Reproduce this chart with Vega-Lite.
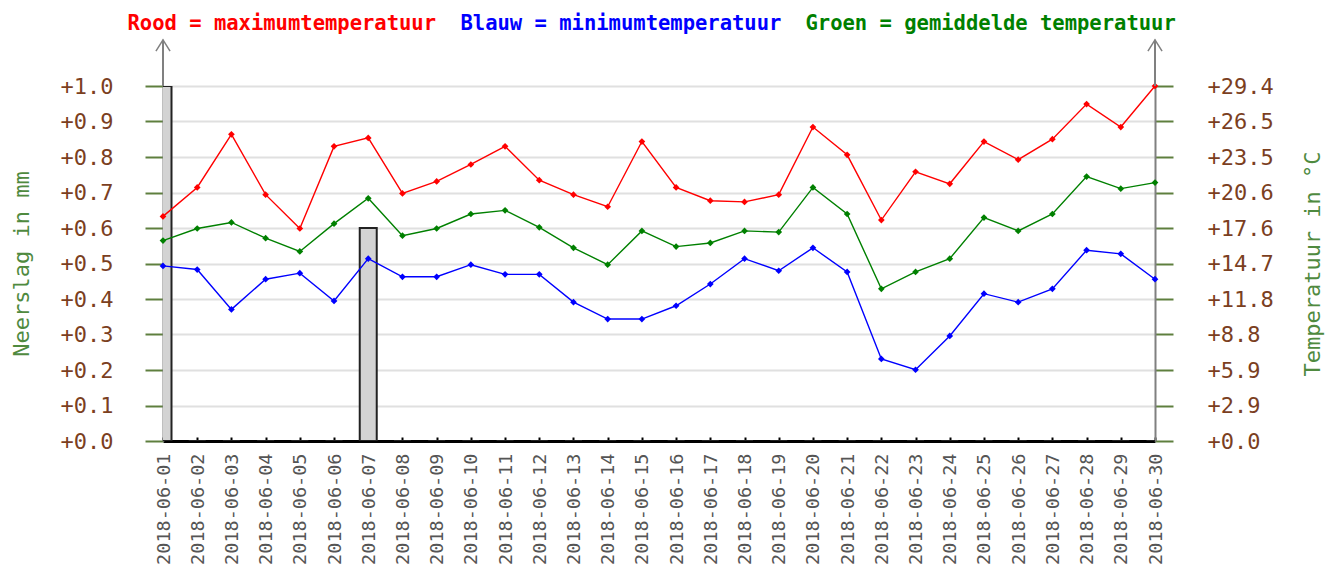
{
  "$schema": "https://vega.github.io/schema/vega-lite/v6.json",
  "width": 992,
  "height": 355,
  "autosize": "none",
  "padding": {"left": 163, "top": 86, "right": 183, "bottom": 129},
  "background": "white",
  "config": {"view": {"stroke": null}, "font": "DejaVu Sans Mono"},
  "data": {
    "values": [
      {"dag": "2018-06-01", "neerslag": 1.0, "tmax": 18.6, "tmin": 14.5, "tgem": 16.6},
      {"dag": "2018-06-02", "neerslag": 0.0, "tmax": 21.0, "tmin": 14.2, "tgem": 17.6},
      {"dag": "2018-06-03", "neerslag": 0.0, "tmax": 25.4, "tmin": 10.9, "tgem": 18.1},
      {"dag": "2018-06-04", "neerslag": 0.0, "tmax": 20.4, "tmin": 13.4, "tgem": 16.8},
      {"dag": "2018-06-05", "neerslag": 0.0, "tmax": 17.6, "tmin": 13.9, "tgem": 15.7},
      {"dag": "2018-06-06", "neerslag": 0.0, "tmax": 24.4, "tmin": 11.6, "tgem": 18.0},
      {"dag": "2018-06-07", "neerslag": 0.6, "tmax": 25.1, "tmin": 15.1, "tgem": 20.1},
      {"dag": "2018-06-08", "neerslag": 0.0, "tmax": 20.5, "tmin": 13.6, "tgem": 17.0},
      {"dag": "2018-06-09", "neerslag": 0.0, "tmax": 21.5, "tmin": 13.6, "tgem": 17.6},
      {"dag": "2018-06-10", "neerslag": 0.0, "tmax": 22.9, "tmin": 14.6, "tgem": 18.8},
      {"dag": "2018-06-11", "neerslag": 0.0, "tmax": 24.4, "tmin": 13.8, "tgem": 19.1},
      {"dag": "2018-06-12", "neerslag": 0.0, "tmax": 21.6, "tmin": 13.8, "tgem": 17.7},
      {"dag": "2018-06-13", "neerslag": 0.0, "tmax": 20.4, "tmin": 11.5, "tgem": 16.0},
      {"dag": "2018-06-14", "neerslag": 0.0, "tmax": 19.4, "tmin": 10.1, "tgem": 14.6},
      {"dag": "2018-06-15", "neerslag": 0.0, "tmax": 24.8, "tmin": 10.1, "tgem": 17.4},
      {"dag": "2018-06-16", "neerslag": 0.0, "tmax": 21.0, "tmin": 11.2, "tgem": 16.1},
      {"dag": "2018-06-17", "neerslag": 0.0, "tmax": 19.9, "tmin": 13.0, "tgem": 16.4},
      {"dag": "2018-06-18", "neerslag": 0.0, "tmax": 19.8, "tmin": 15.1, "tgem": 17.4},
      {"dag": "2018-06-19", "neerslag": 0.0, "tmax": 20.4, "tmin": 14.1, "tgem": 17.3},
      {"dag": "2018-06-20", "neerslag": 0.0, "tmax": 26.0, "tmin": 16.0, "tgem": 21.0},
      {"dag": "2018-06-21", "neerslag": 0.0, "tmax": 23.7, "tmin": 14.0, "tgem": 18.8},
      {"dag": "2018-06-22", "neerslag": 0.0, "tmax": 18.3, "tmin": 6.8, "tgem": 12.6},
      {"dag": "2018-06-23", "neerslag": 0.0, "tmax": 22.3, "tmin": 5.9, "tgem": 14.0},
      {"dag": "2018-06-24", "neerslag": 0.0, "tmax": 21.3, "tmin": 8.7, "tgem": 15.1},
      {"dag": "2018-06-25", "neerslag": 0.0, "tmax": 24.8, "tmin": 12.2, "tgem": 18.5},
      {"dag": "2018-06-26", "neerslag": 0.0, "tmax": 23.3, "tmin": 11.5, "tgem": 17.4},
      {"dag": "2018-06-27", "neerslag": 0.0, "tmax": 25.0, "tmin": 12.6, "tgem": 18.8},
      {"dag": "2018-06-28", "neerslag": 0.0, "tmax": 27.9, "tmin": 15.8, "tgem": 21.9},
      {"dag": "2018-06-29", "neerslag": 0.0, "tmax": 26.0, "tmin": 15.5, "tgem": 20.9},
      {"dag": "2018-06-30", "neerslag": 0.0, "tmax": 29.4, "tmin": 13.4, "tgem": 21.4}
    ]
  },
  "encoding": {
    "x": {
      "field": "dag",
      "type": "ordinal",
      "scale": {"type": "point", "padding": 0},
      "axis": {
        "title": null,
        "labelAngle": 270,
        "labelFont": "DejaVu Sans Mono",
        "labelFontSize": 18.5,
        "labelColor": "#555555",
        "labelPadding": 16,
        "domainColor": "#000000",
        "domainWidth": 3,
        "tickColor": "#000000",
        "tickSize": -4,
        "tickWidth": 2,
        "grid": false
      }
    }
  },
  "layer": [
    {
      "mark": {"type": "bar", "size": 17, "clip": true, "fill": "#d3d3d3", "stroke": "#222222", "strokeWidth": 2},
      "encoding": {
        "y": {
          "field": "neerslag",
          "type": "quantitative",
          "scale": {"domain": [0, 1], "nice": false, "zero": true},
          "axis": {
            "orient": "left",
            "title": "Neerslag in mm",
            "values": [0, 0.1, 0.2, 0.3, 0.4, 0.5, 0.6, 0.7, 0.8, 0.9, 1.0],
            "labelExpr": "'+' + format(datum.value, '.1f')",
            "labelOverlap": false,
            "labelFont": "DejaVu Sans Mono",
            "labelFontSize": 22,
            "labelColor": "#7b3f1f",
            "labelPadding": 32,
            "tickSize": 18,
            "tickColor": "#5e7f3e",
            "tickWidth": 2,
            "domainColor": "#808080",
            "domainWidth": 2,
            "grid": true,
            "gridColor": "#e0e0e0",
            "gridWidth": 2,
            "titleFont": "DejaVu Sans Mono",
            "titleFontSize": 22,
            "titleFontWeight": "normal",
            "titleColor": "#4f8a3f",
            "titlePadding": 27
          }
        }
      }
    },
    {
      "transform": [{"fold": ["tmax", "tmin", "tgem"], "as": ["reeks", "temp"]}],
      "encoding": {
        "y": {
          "field": "temp",
          "type": "quantitative",
          "scale": {"domain": [0, 29.4], "nice": false, "zero": true},
          "axis": {
            "orient": "right",
            "title": "Temperatuur in °C",
            "titleAngle": 270,
            "values": [0, 2.94, 5.88, 8.82, 11.76, 14.7, 17.64, 20.58, 23.52, 26.46, 29.4],
            "labelExpr": "'+' + format(datum.value, '.1f')",
            "labelOverlap": false,
            "labelFont": "DejaVu Sans Mono",
            "labelFontSize": 22,
            "labelColor": "#7b3f1f",
            "labelPadding": 34,
            "tickSize": 18,
            "tickColor": "#5e7f3e",
            "tickWidth": 2,
            "domainColor": "#808080",
            "domainWidth": 2,
            "grid": false,
            "titleFont": "DejaVu Sans Mono",
            "titleFontSize": 22,
            "titleFontWeight": "normal",
            "titleColor": "#4f8a3f",
            "titlePadding": 51
          }
        },
        "color": {
          "field": "reeks",
          "type": "nominal",
          "scale": {"domain": ["tmax", "tmin", "tgem"], "range": ["#ff0000", "#0000ff", "#008000"]},
          "legend": {
            "orient": "none",
            "legendX": -56,
            "legendY": -72,
            "direction": "horizontal",
            "columns": 3,
            "columnPadding": 3,
            "title": null,
            "symbolSize": 0,
            "symbolOpacity": 0,
            "symbolStrokeWidth": 0,
            "labelOffset": 0,
            "labelLimit": 600,
            "labelFont": "DejaVu Sans Mono",
            "labelFontSize": 20.5,
            "labelFontWeight": "bold",
            "labelExpr": "datum.value == 'tmax' ? 'Rood = maximumtemperatuur' : datum.value == 'tmin' ? 'Blauw = minimumtemperatuur' : 'Groen = gemiddelde temperatuur'",
            "encode": {
              "labels": {
                "update": {
                  "fill": {"signal": "datum.value == 'tmax' ? '#ff0000' : datum.value == 'tmin' ? '#0000ff' : '#008000'"}
                }
              }
            }
          }
        }
      },
      "layer": [
        {"mark": {"type": "line", "strokeWidth": 1.4}},
        {"mark": {"type": "point", "shape": "diamond", "filled": true, "size": 45, "opacity": 1}}
      ]
    },
    {
      "data": {"values": [{"dag": "2018-06-01"}, {"dag": "2018-06-30"}]},
      "layer": [
        {
          "mark": {"type": "rule", "stroke": "#808080", "strokeWidth": 2},
          "encoding": {
            "y": {"datum": 1, "type": "quantitative", "scale": {"domain": [0, 1], "nice": false}, "axis": null},
            "y2": {"datum": 1.13}
          }
        },
        {
          "mark": {"type": "point", "shape": "M-1,1.6L0,0L1,1.6", "filled": false, "stroke": "#808080", "strokeWidth": 1.5, "size": 200, "opacity": 1},
          "encoding": {
            "y": {"datum": 1.13, "type": "quantitative", "scale": {"domain": [0, 1], "nice": false}, "axis": null}
          }
        }
      ]
    }
  ],
  "resolve": {"scale": {"y": "independent"}}
}
